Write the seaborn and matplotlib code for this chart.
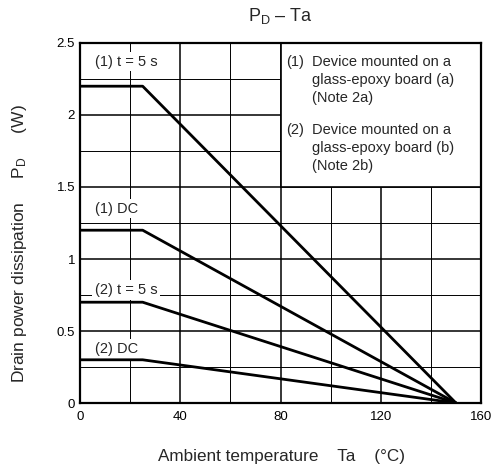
import matplotlib
matplotlib.use("Agg")
import matplotlib.pyplot as plt
import matplotlib.patches as mpatches
from matplotlib.ticker import MultipleLocator
import seaborn as sns
import pandas as pd

# ---- data ----
temps = [0, 25, 150]
pd_1_5s = [2.2, 2.2, 0.0]
pd_1_dc = [1.2, 1.2, 0.0]
pd_2_5s = [0.7, 0.7, 0.0]
pd_2_dc = [0.3, 0.3, 0.0]
series_names = ["(1) t = 5 s", "(1) DC", "(2) t = 5 s", "(2) DC"]
series_values = [pd_1_5s, pd_1_dc, pd_2_5s, pd_2_dc]
label_pos = [(6, 2.37), (6, 1.35), (6, 0.785), (6, 0.375)]

x_ticks = [0, 40, 80, 120, 160]
y_ticks = [0, 0.5, 1, 1.5, 2, 2.5]
y_tick_labels = ["0", "0.5", "1", "1.5", "2", "2.5"]

note_lines_1 = ["Device mounted on a", "glass-epoxy board (a)", "(Note 2a)"]
note_lines_2 = ["Device mounted on a", "glass-epoxy board (b)", "(Note 2b)"]
note_box = (80, 1.5, 80, 1.0)  # x, y, width, height in data units

rows = []
for name, vals in zip(series_names, series_values):
    for t, v in zip(temps, vals):
        rows.append({"Ta": t, "PD": v, "series": name})
df = pd.DataFrame(rows)

sns.set_theme(style="white")
plt.rcParams["font.family"] = ["Liberation Sans", "DejaVu Sans"]
plt.rcParams["mathtext.fontset"] = "custom"
plt.rcParams["mathtext.rm"] = "Liberation Sans"
plt.rcParams["mathtext.it"] = "Liberation Sans"

fig = plt.figure(figsize=(4.92, 4.67), dpi=100)
ax = fig.add_axes([80 / 492, 64 / 467, 401 / 492, 360 / 467])

ax.set_xlim(0, 160)
ax.set_ylim(0, 2.5)
ax.xaxis.set_major_locator(MultipleLocator(40))
ax.xaxis.set_minor_locator(MultipleLocator(20))
ax.yaxis.set_major_locator(MultipleLocator(0.5))
ax.yaxis.set_minor_locator(MultipleLocator(0.25))
ax.grid(which="major", color="black", linewidth=1.1, zorder=0)
ax.grid(which="minor", color="black", linewidth=0.7, zorder=0)
ax.set_axisbelow(True)

sns.lineplot(data=df, x="Ta", y="PD", hue="series", palette=["black"] * 4,
             linewidth=2.0, legend=False, ax=ax, zorder=3)

# note box
bx, by, bw, bh = note_box
ax.add_patch(mpatches.Rectangle((bx, by), bw, bh, facecolor="white",
                                edgecolor="black", linewidth=1.2, zorder=2))

ax.set_xticks(x_ticks)
ax.set_yticks(y_ticks)
ax.set_yticklabels(y_tick_labels)
ax.tick_params(axis="both", which="both", length=0, labelsize=9.5, colors="black")
ax.tick_params(axis="x", pad=6)
ax.tick_params(axis="y", pad=3.5)
ax.set_xlabel("")
ax.set_ylabel("")

for sp in ax.spines.values():
    sp.set_color("black")
    sp.set_linewidth(1.6)
    sp.set_zorder(5)

for name, (lx, ly) in zip(series_names, label_pos):
    ax.text(lx, ly, name, fontsize=10.5, ha="left", va="center", zorder=2.5,
            bbox=dict(facecolor="white", edgecolor="none", pad=2.0))

# notes text
note_fs = 10.5
for tag, lines, top in [("(1)", note_lines_1, 62), ("(2)", note_lines_2, 130)]:
    fig.text(286 / 492, 1 - top / 467, tag, fontsize=note_fs, ha="left", va="center")
    for j, ln in enumerate(lines):
        yy = top + j * 18
        fig.text(312 / 492, 1 - yy / 467, ln, fontsize=note_fs, ha="left", va="center")

fig.text(280 / 492, 1 - 16 / 467, "P$_\\mathrm{D}$ – Ta", fontsize=13,
         ha="center", va="center")
fig.text(281 / 492, 1 - 457 / 467, "Ambient temperature    Ta    (°C)",
         fontsize=12.3, ha="center", va="center")
fig.text(20 / 492, 1 - 244 / 467, "Drain power dissipation     P$_\\mathrm{D}$     (W)",
         fontsize=12.5, ha="center", va="center", rotation=90)

fig.savefig("out.png", dpi=100, facecolor="white")
